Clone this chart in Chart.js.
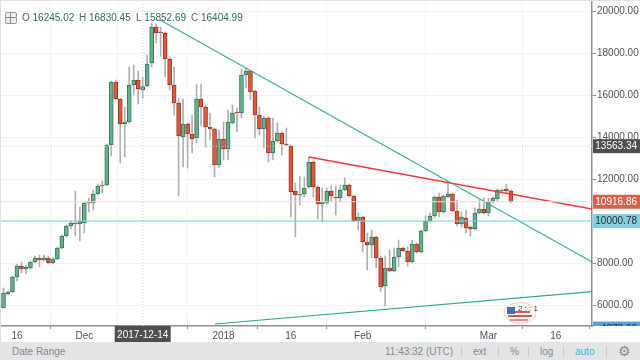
<!DOCTYPE html>
<html>
<head>
<meta charset="utf-8">
<style>
    html, body { margin: 0; padding: 0; background: #fff; overflow: hidden; }
    body { width: 640px; height: 360px; position: relative; font-family: "Liberation Sans", Arial, sans-serif; font-size: 10px; }
    #wrap { position: absolute; left: 0; top: 0; width: 640px; height: 342px; }
    #chart { filter: blur(0.35px); }
    #edgeTop { position: absolute; left: 0; top: 0; width: 640px; height: 1px; background: #dfe2e5; }
    #edgeLeft { position: absolute; left: 0; top: 0; width: 1px; height: 342px; background: #dfe2e5; }
    #legend { position: absolute; top: 12px; left: 22px; height: 12px; line-height: 12px; color: #55606a; white-space: nowrap; }
    #legend span { position: absolute; top: 0; }
    #legend b { font-weight: normal; color: #2f6b55; }
    #plusBox { position: absolute; left: 5px; top: 12px; width: 10px; height: 10px; border: 1px solid #9a9a9a; border-radius: 2px; background: #eee; }
    #plusBox:before { content: ""; position: absolute; left: 4px; top: 0; width: 1px; height: 10px; background: #888; }
    #plusBox:after { content: ""; position: absolute; left: 0; top: 4px; width: 10px; height: 1px; background: #888; }
    #bar { position: absolute; left: 0; top: 342px; width: 640px; height: 18px; background: #e3e4e6; color: #84888d; line-height: 19px; }
    #bar span { position: absolute; top: 0; white-space: nowrap; }
    #bar i { position: absolute; top: 4px; width: 1px; height: 11px; background: #c6c8cb; }
    #flag { position: absolute; left: 503px; top: 301px; }
</style>
</head>
<body>
<div id="wrap"><canvas id="chart"></canvas></div>
<div id="edgeTop"></div>
<div id="edgeLeft"></div>
<div id="plusBox"></div>
<div id="legend">
    <span style="left:0">O&nbsp;<b>16245.02</b></span>
    <span style="left:57px">H&nbsp;<b>16830.45</b></span>
    <span style="left:114px">L&nbsp;<b>15852.69</b></span>
    <span style="left:169px">C&nbsp;<b>16404.99</b></span>
</div>
<svg id="flag" width="36" height="24" viewBox="0 0 36 24">
    <ellipse cx="17" cy="12" rx="16" ry="10.5" fill="#fff" stroke="#f6c9a8" stroke-width="1"/>
    <rect x="9" y="10" width="18" height="2" fill="#e0505a"/>
    <rect x="5" y="14" width="24" height="2" fill="#e0505a"/>
    <rect x="7" y="18" width="18" height="2" fill="#e88a8a"/>
    <rect x="4" y="6" width="8" height="7" fill="#3f6fb5"/>
    <text x="15" y="10" font-size="8" font-family="Liberation Sans" fill="#333">2 : : 1</text>
</svg>
<div id="bar">
    <span style="left:12px">Date Range</span>
    <span style="left:385px">11:43:32 (UTC)</span>
    <i style="left:461px"></i>
    <span style="left:473px">ext</span>
    <i style="left:498px"></i>
    <span style="left:510px">%</span>
    <i style="left:528px"></i>
    <span style="left:540px">log</span>
    <i style="left:563px"></i>
    <span style="left:575px;color:#45b4e8">auto</span>
    <i style="left:606px"></i>
    <span style="left:618px;font-size:14px;font-family:'DejaVu Sans'">⚙</span>
</div>
<script src="https://cdn.jsdelivr.net/npm/chart.js@4"></script>
<script>
// candles, one per day from 2017-11-13
const opens = [5857,6524,6619,7333,7857,7714,7762,8048,8238,8143,8238,8000,8190,8714,9286,9762,9905,9857,9905,10857,10857,11286,11667,11714,13619,16619,15810,14619,14714,16476,16714,16245,16429,17524,19238,19000,18953,17714,16476,15619,14000,14619,14143,13952,15810,15429,14476,14381,12667,13905,13429,14667,15191,15143,16952,17143,16190,15048,14381,14905,13238,13810,14190,13667,13571,11429,11238,11286,11619,12810,11619,10810,10857,11429,11143,11095,11476,11714,11190,10000,10190,9000,8857,9238,8238,6905,7762,7619,8286,8714,8571,8048,8905,8524,9524,10000,10238,11143,10429,11143,11286,10476,9857,10143,9714,9619,10381,10571,10381,10905,11048,11429,11524,11429];
const highs = [6810,6667,7381,7952,8048,7905,8095,8333,8381,8381,8333,8286,8762,9333,9810,10000,11429,10667,10905,11095,11476,11762,11905,13667,16667,16714,15857,15429,17333,17429,17143,16830,17905,19429,19381,19238,19000,17810,17333,15857,15810,14667,15048,16524,16524,15524,15143,14429,14333,14714,15286,15524,15381,17238,17286,17190,16238,15429,15000,14952,14905,14667,14238,14429,13619,11810,12143,12095,13048,12857,11667,11571,11571,11714,11667,11714,12048,11762,11238,10381,10238,9429,9571,9286,8333,8333,8619,8714,9095,8762,8762,9095,8952,9571,10238,10381,11190,11333,11238,11810,11333,11000,10429,10524,9762,10619,11000,11095,11095,11143,11524,11524,11762,11476];
const lows = [5857,6476,6571,7143,7524,7476,7714,8000,7810,8095,7952,7952,8143,8667,9238,9619,9286,9048,9429,10429,10524,11238,11333,11667,13095,15762,12762,13048,14667,16000,15571,15853,16381,17333,18476,17857,16857,16238,15048,11190,12571,12524,13238,13714,14524,13524,13857,12095,12524,12905,12905,14619,14238,14905,16333,15762,13952,14095,13476,12810,12905,13762,13143,13571,10190,9238,10762,11143,11571,11143,10095,9952,10810,10905,10286,10905,11429,11143,9952,9571,8524,7667,8238,7762,6619,5952,7571,7571,7810,8524,7857,8000,8476,8476,9476,9952,10143,10190,10381,11095,10429,9762,9714,9429,9286,9571,10333,10333,10238,10857,10905,11333,11333,10857];
const closes = [6571,6619,7333,7857,7714,7810,8048,8238,8143,8238,8000,8190,8714,9286,9762,9905,9857,10000,10857,10905,11286,11667,11714,13619,16619,15810,14619,14714,16476,16714,16286,16405,17476,19238,18953,18953,17714,16476,15619,14048,14619,14143,13905,15810,15429,14476,14381,12667,13905,13429,14714,15143,15143,16952,17143,16143,15048,14381,14905,13238,13810,14190,13667,13619,11381,11238,11286,11571,12810,11619,10810,10905,11429,11190,11095,11476,11714,11190,10000,10190,9000,8857,9238,8238,6857,7762,7619,8286,8714,8571,8048,8905,8524,9524,10000,10238,11143,10429,11190,11286,10476,9857,10190,9667,9619,10381,10571,10381,10905,11095,11476,11476,11429,10917];

// axes
const xTickPositions = [3, 18, 33, 49, 64, 80, 108, 123];
const xTickLabels = ['16', 'Dec', '16', '2018', '16', 'Feb', 'Mar', '16'];
const yTickValues = [6000, 8000, 10000, 12000, 14000, 16000, 18000, 20000];

// drawn lines, [day index, price]
const upperTrend = [[34.9, 19572], [131.1, 8048]];
const redTrend = [[68, 13048], [131.1, 10571]];
const lowerTrend = [[47.1, 5095], [131.1, 6633]];
const supportPrice = 10000.78;
const lastPrice = 10916.86;
const crossPrice = 13563.34;
const crossIndex = 31;
const crossDate = '2017-12-14';
const lowTagPrice = 4878.00;

const xMin = -0.78, xMax = 131.07, yMin = 5000, yMax = 20429;
const tagFont = '10px "Liberation Sans", Arial, sans-serif';

const indexes = opens.map((_, i) => i);
const isUp = i => closes[i] >= opens[i];

const pairs = arr => arr.map(p => ({ x: p[0], y: p[1] }));
const lineSet = (points, color, width, dash) => ({
    type: 'line',
    data: pairs(points),
    borderColor: color,
    borderWidth: width,
    borderDash: dash || [],
    pointRadius: 0,
    order: 1
});

const priceTags = [
    { price: crossPrice, bg: '#4f4f4f', fg: '#fff' },
    { price: lastPrice, bg: '#d9604c', fg: '#fff' },
    { price: supportPrice, bg: '#84d0e0', fg: '#1f2a30' },
    { price: lowTagPrice, bg: '#5a9fd8', fg: '#1f2a30' }
];

const tagsPlugin = {
    id: 'tags',
    afterDraw(chart) {
        const { ctx, chartArea, scales } = chart;
        ctx.save();
        ctx.font = tagFont;
        ctx.textBaseline = 'middle';
        // only what falls above the time axis is visible
        ctx.beginPath();
        ctx.rect(chartArea.right + 1, 0, 640 - chartArea.right, chartArea.bottom);
        ctx.clip();
        priceTags.forEach(t => {
            const y = scales.y.getPixelForValue(t.price);
            ctx.fillStyle = t.bg;
            ctx.fillRect(chartArea.right + 1, y - 7, 640 - chartArea.right, 14);
            ctx.fillStyle = t.fg;
            ctx.textAlign = 'right';
            ctx.fillText(t.price.toFixed(2), 637, y + 0.5);
        });
        ctx.restore();

        ctx.save();
        const cx = scales.x.getPixelForValue(crossIndex);
        ctx.fillStyle = '#4f4f4f';
        ctx.fillRect(cx - 28, chartArea.bottom, 56, 16);
        ctx.fillStyle = '#fff';
        ctx.font = tagFont;
        ctx.textAlign = 'center';
        ctx.textBaseline = 'middle';
        ctx.fillText(crossDate, cx, chartArea.bottom + 9);
        ctx.restore();
    }
};

new Chart(document.getElementById('chart'), {
    type: 'bar',
    plugins: [tagsPlugin],
    data: {
        datasets: [
            lineSet([[xMin, lastPrice], [xMax, lastPrice]], '#f6dcd6', 1),
            lineSet([[xMin, supportPrice], [xMax, supportPrice]], '#7fd3e3', 1.2),
            lineSet([[xMin, crossPrice], [xMax, crossPrice]], '#cfcfcf', 1, [1, 2]),
            lineSet([[crossIndex, yMin], [crossIndex, yMax]], '#cfcfcf', 1, [1, 2]),
            lineSet(upperTrend, '#3aaf97', 1.1),
            lineSet(redTrend, '#f23a3a', 1.4),
            lineSet(lowerTrend, '#2fa78c', 1.2),
            {
                data: indexes.map(i => ({ x: i, y: [lows[i], highs[i]] })),
                backgroundColor: '#b0b0b0',
                borderWidth: 0,
                barThickness: 1,
                grouped: false,
                order: 3
            },
            {
                data: indexes.map(i => ({ x: i, y: [opens[i], closes[i]] })),
                backgroundColor: indexes.map(i => isUp(i) ? '#6aae8e' : '#e0593f'),
                borderColor: indexes.map(i => isUp(i) ? '#3d7459' : '#97361f'),
                borderWidth: 1,
                borderSkipped: false,
                barThickness: 4,
                grouped: false,
                order: 2
            }
        ]
    },
    options: {
        responsive: true,
        maintainAspectRatio: false,
        animation: false,
        layout: { padding: { top: 2, left: 0, right: 0, bottom: 0 } },
        plugins: { legend: { display: false }, tooltip: { enabled: false } },
        scales: {
            x: {
                type: 'linear',
                offset: false,
                min: xMin,
                max: xMax,
                afterFit: s => { s.height = 16; s.paddingLeft = 0; s.paddingRight = 0; },
                afterBuildTicks: s => { s.ticks = xTickPositions.map(v => ({ value: v })); },
                grid: { color: '#f3f4f5', tickColor: '#8a8a8a', tickLength: 3 },
                border: { color: '#8f8f8f', width: 1.5 },
                ticks: {
                    autoSkip: false,
                    maxRotation: 0,
                    padding: 1,
                    color: '#4c525e',
                    font: { family: '"Liberation Sans", Arial, sans-serif', size: 10 },
                    callback: v => xTickLabels[xTickPositions.indexOf(v)]
                }
            },
            y: {
                position: 'right',
                min: yMin,
                max: yMax,
                afterFit: s => { s.width = 48; s.paddingTop = 0; s.paddingBottom = 0; },
                afterBuildTicks: s => { s.ticks = yTickValues.map(v => ({ value: v })); },
                grid: { color: '#f3f4f5', tickColor: '#8a8a8a', tickLength: 4 },
                border: { color: '#8f8f8f', width: 1.5 },
                ticks: {
                    autoSkip: false,
                    padding: 1,
                    color: '#4c525e',
                    font: { family: '"Liberation Sans", Arial, sans-serif', size: 10 },
                    callback: v => v.toFixed(2)
                }
            }
        }
    }
});
</script>
</body>
</html>
